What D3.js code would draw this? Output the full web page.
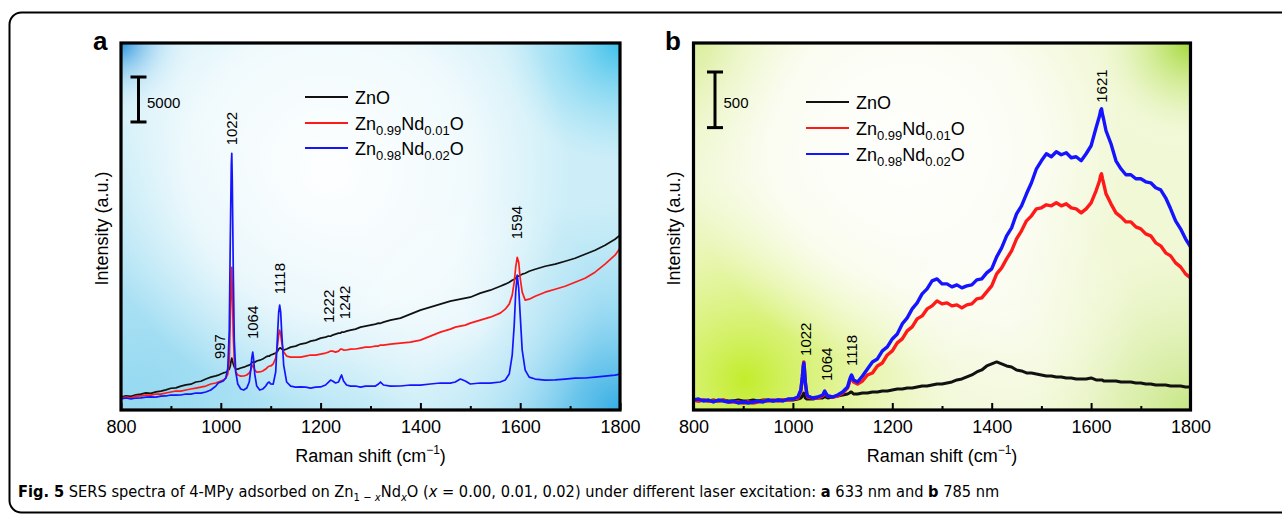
<!DOCTYPE html>
<html><head><meta charset="utf-8">
<script src="https://cdn.jsdelivr.net/npm/d3@7"></script>
<style>
body{margin:0;background:#fff}
svg{display:block}
text{font-family:"Liberation Sans",Arial,Helvetica,sans-serif;fill:#000}
</style>
</head><body>
<svg id="c" width="1282" height="517"></svg>
<script>
// ---------------- data ----------------
const ramanTicks = [800, 1000, 1200, 1400, 1600, 1800];
const ramanMinorTicks = [900, 1100, 1300, 1500, 1700];
const seriesColors = ["#111111", "#ff1a1a", "#1414ff"];
const legendLabels = [
  [{t: "ZnO"}],
  [{t: "Zn"}, {t: "0.99", s: 1}, {t: "Nd"}, {t: "0.01", s: 1}, {t: "O"}],
  [{t: "Zn"}, {t: "0.98", s: 1}, {t: "Nd"}, {t: "0.02", s: 1}, {t: "O"}]
];

// panel a : 633 nm
const shiftA = [800,810,820,830,840,850,860,870,880,890,900,910,920,930,940,950,960,970,980,990,
  995,1000,1005,1010,1014,1017,1019,1021,1022,1023,1025,1027,1030,1034,1040,1046,1052,1057,
  1060,1062,1064,1066,1068,1072,1078,1084,1090,1094,1097,1100,1105,1110,1114,1116,1118,1120,1122,1126,1132,
  1140,1150,1160,1170,1180,1190,1200,1210,1216,1220,1224,1230,1236,1240,1242,1246,1252,
  1260,1270,1280,1290,1300,1310,1316,1320,1326,1340,1360,1380,1400,1420,1440,1460,1470,1480,1490,1500,
  1520,1540,1560,1570,1578,1584,1588,1591,1594,1597,1600,1604,1610,1618,
  1630,1650,1670,1690,1710,1730,1750,1770,1790,1800];
const aZnO = [1440,1580,1530,1680,1760,1900,1850,2010,2100,2240,
  2420,2460,2650,2790,2870,3110,3200,3450,3650,3790,
  3870,4000,4120,4200,
  4350,4540,4880,5560,5770,5530,5110,4770,
  4560,4540,4670,4760,4900,4990,
  5100,5230,5320,5340,5310,
  5450,5540,5670,5880,5990,5980,6110,6210,
  6330,6550,6770,6880,6900,6770,6660,6780,
  6990,7100,7330,7430,7660,7770,7990,8100,
  8220,8200,8330,8440,8550,8540,8660,8650,8770,
  8880,8990,9210,9320,9440,9550,
  9660,9640,9770,
  9990,10210,10660,11100,11430,11770,12100,
  12210,12320,12430,12540,
  12990,13320,13760,13990,14210,14430,14540,14650,14870,14880,14990,15100,15210,15430,
  15650,15980,16210,16540,16870,17320,17760,18320,18980,19430];
const aNd001 = [1330,1440,1330,1550,1560,1670,1660,1780,1770,1890,
  2000,2110,2100,2220,2330,2440,2550,2660,2890,3000,
  3110,3220,3330,3550,
  4000,5550,9990,14990,15870,13320,8330,5550,
  4220,3890,3770,3780,3890,4110,
  4440,4770,5000,4770,4440,
  4220,4230,4330,4550,4770,4880,4890,5110,
  5770,7330,8330,8880,8440,7550,6440,5990,
  5880,5890,5880,5990,6110,6100,6220,6330,
  6440,6550,6540,6440,6550,6770,6780,6660,6670,
  6770,6780,6880,6990,7000,7100,
  7110,7220,7210,
  7330,7440,7550,7770,8210,8660,8990,
  9210,9330,9440,9660,
  9990,10320,10770,11210,11770,12770,14210,15870,16980,16430,14650,13100,12210,12320,
  12650,13100,13430,13760,14210,14650,15320,16210,17210,17980];
const aNd002 = [1220,1330,1220,1330,1340,1440,1450,1440,1550,1560,
  1670,1660,1670,1780,1770,1890,1880,2000,2220,2660,
  3000,3110,3220,3550,
  4660,8880,18870,27200,28530,25530,15540,7770,
  4220,2890,2330,2220,2440,3110,
  4440,5770,6440,5550,4000,
  2660,2220,2330,2660,3000,3110,2890,2880,
  4220,8660,10880,11660,10880,8660,5000,3110,
  2660,2550,2560,2550,2440,2550,2560,2780,
  3110,3330,3220,3000,3110,3660,3890,3220,2780,
  2660,2670,2550,2660,2670,2660,
  2890,3110,2780,
  2660,2670,2780,2770,2890,3000,2990,
  3110,3440,3220,2890,
  3000,2990,3110,3330,4000,6110,9440,13100,14990,13540,10550,6660,4440,3660,
  3440,3330,3340,3440,3550,3560,3660,3770,3880,4000];
const peaksA = [997, 1022, 1064, 1118, 1222, 1242, 1594];
const peakLabelLevelA = [5660, 29420, 7880, 12880, 9660, 10100, 18980];
const scaleBarA = 5000;

// panel b : 785 nm
const shiftB = [800,810,820,830,840,850,860,870,880,890,900,910,920,930,940,950,960,970,980,990,1000,1010,
  1016,1019,1021,1022,1023,1025,1028,1030,1040,1050,1060,1062,1064,1066,1070,1080,1090,1100,1110,
  1114,1116,1118,1120,1122,
  1130,1140,1150,1160,1170,1180,1190,1200,1210,1220,1230,1240,1250,1260,1270,1280,1290,1300,1310,1320,
  1330,1340,1350,1360,1370,1380,1390,1400,1410,1420,1430,1440,1450,1460,1470,1480,1490,1500,1510,1520,
  1530,1540,1550,1560,1570,1580,1590,1600,1610,
  1617,1619,1621,1623,1625,
  1630,1640,1650,1660,1670,1680,1690,1700,1710,1720,1730,1740,1750,1760,1770,1780,1790,1800];
const bZnO = [90,81,90,81,90,81,90,81,81,90,81,81,90,81,90,90,81,90,90,90,90,99,
  108,126,144,153,135,108,99,
  99,99,108,108,
  117,117,117,
  108,117,126,135,144,
  153,162,162,153,144,
  144,153,153,162,162,171,171,180,189,189,198,198,207,216,216,225,234,234,243,252,
  270,279,297,315,342,360,396,414,432,414,396,387,360,351,333,333,324,315,306,306,
  297,297,288,288,279,279,279,288,270,
  270,270,270,270,261,
  261,261,261,252,252,252,243,243,234,234,225,225,225,216,216,216,207,207];
const bNd001 = [90,81,90,81,81,81,90,72,72,72,63,72,63,72,81,81,90,81,90,90,99,108,
  171,297,405,432,378,243,144,
  117,108,108,126,
  144,162,144,
  126,117,126,153,198,
  252,279,297,279,252,
  234,261,315,333,396,423,495,531,603,639,711,747,819,846,909,936,981,954,963,936,
  945,918,945,954,999,1008,1062,1116,1224,1278,1359,1431,1539,1611,1701,1746,1809,1818,1845,1836,
  1863,1836,1854,1818,1809,1773,1809,1863,1971,
  2061,2106,2124,2079,2043,
  1944,1854,1773,1737,1692,1692,1647,1629,1584,1566,1503,1476,1413,1386,1323,1287,1224,1188];
const bNd002 = [90,99,81,90,72,90,81,72,81,63,72,63,72,81,72,90,81,90,81,99,99,117,
  180,297,396,423,378,252,144,
  126,108,117,135,
  153,171,153,
  126,117,135,162,207,
  270,297,315,297,270,
  252,306,369,432,459,531,567,639,684,774,828,909,963,1044,1089,1161,1179,1134,1134,1107,
  1125,1098,1116,1125,1170,1179,1233,1269,1377,1458,1566,1638,1764,1836,1944,2043,2169,2241,2304,2277,
  2322,2295,2313,2268,2277,2241,2304,2376,2538,
  2646,2691,2709,2655,2619,
  2511,2394,2241,2169,2115,2115,2079,2079,2052,2043,1998,1980,1908,1809,1701,1629,1539,1467];
const peaksB = [1022, 1064, 1118, 1621];
const peakLabelLevelB = [486, 261, 396, 2763];
const scaleBarB = 500;

// ---------------- drawing ----------------
const svg = d3.select("#c");
const defs = svg.append("defs");

// outer frame
svg.append("rect").attr("x", 9.5).attr("y", 12.5).attr("width", 1300).attr("height", 500)
  .attr("rx", 12).attr("fill", "none").attr("stroke", "#000").attr("stroke-width", 2);

function radial(id, cx, cy, r, stops) {
  const g = defs.append("radialGradient").attr("id", id).attr("gradientUnits", "userSpaceOnUse")
    .attr("cx", cx).attr("cy", cy).attr("r", r);
  stops.forEach(s => g.append("stop").attr("offset", s[0]).attr("stop-color", s[1]).attr("stop-opacity", s[2]));
  return id;
}

function panel(cfg) {
  const {x0, x1, y0, y1} = cfg;
  const x = d3.scaleLinear().domain([800, 1800]).range([x0, x1]);
  const y = d3.scaleLinear().domain([0, cfg.yMax]).range([y1, y0]);
  const g = svg.append("g");

  // background
  g.append("rect").attr("x", x0).attr("y", y0).attr("width", x1 - x0).attr("height", y1 - y0).attr("fill", cfg.base);
  cfg.glows.forEach((gl, i) => {
    const id = cfg.id + "g" + i;
    radial(id, gl[0], gl[1], gl[2], gl[3]);
    g.append("rect").attr("x", x0).attr("y", y0).attr("width", x1 - x0).attr("height", y1 - y0)
      .attr("fill", `url(#${id})`);
  });

  // clip
  defs.append("clipPath").attr("id", cfg.id + "clip").append("rect")
    .attr("x", x0).attr("y", y0).attr("width", x1 - x0).attr("height", y1 - y0);

  // spectra
  const line = d3.line().x((d, i) => x(cfg.shift[i])).y(d => y(d));
  const lines = g.append("g").attr("clip-path", `url(#${cfg.id}clip)`);
  cfg.series.forEach((s, k) => {
    lines.append("path").datum(s).attr("d", line).attr("fill", "none")
      .attr("stroke", seriesColors[k]).attr("stroke-width", cfg.widths[k])
      .attr("stroke-linejoin", "round");
  });

  // peak labels
  cfg.peaks.forEach((p, i) => {
    const px = x(p) + (cfg.peakNudge[i] || 0);
    g.append("text").attr("transform", `translate(${px},${y(cfg.peakLevels[i])}) rotate(-90)`)
      .attr("dy", "0.36em").attr("font-size", 15).text(p);
  });

  // axes ticks
  const ax = g.append("g").attr("transform", `translate(0,${y1})`)
    .call(d3.axisBottom(x).tickValues(ramanTicks).tickSizeInner(-7).tickSizeOuter(0).tickPadding(10)
      .tickFormat(d3.format("d")));
  ax.select(".domain").remove();
  ax.selectAll(".tick line").attr("stroke", "#000").attr("stroke-width", 2);
  ax.selectAll(".tick text").attr("font-size", 18).attr("font-family", "Liberation Sans, Arial, sans-serif").attr("fill", "#000");
  const mx = g.append("g").attr("transform", `translate(0,${y1})`)
    .call(d3.axisBottom(x).tickValues(ramanMinorTicks).tickSizeInner(-4).tickSizeOuter(0).tickFormat(""));
  mx.select(".domain").remove();
  mx.selectAll(".tick line").attr("stroke", "#000").attr("stroke-width", 2);

  // frame
  g.append("rect").attr("x", x0).attr("y", y0).attr("width", x1 - x0).attr("height", y1 - y0)
    .attr("fill", "none").attr("stroke", "#000").attr("stroke-width", 3.2);

  // titles
  const xt = g.append("text").attr("x", (x0 + x1) / 2).attr("y", y1 + 52).attr("text-anchor", "middle").attr("font-size", 18);
  xt.append("tspan").text("Raman shift (cm");
  xt.append("tspan").attr("font-size", 12).attr("dy", -8).text("\u22121");
  xt.append("tspan").attr("dy", 8).text(")");
  g.append("text").attr("transform", `translate(${cfg.yTitleX},${(y0 + y1) / 2 + 2}) rotate(-90)`)
    .attr("text-anchor", "middle").attr("dy", "0.35em").attr("font-size", 18).text("Intensity (a.u.)");
  g.append("text").attr("x", cfg.letterX).attr("y", 50).attr("font-size", 26).attr("font-weight", "bold").text(cfg.letter);

  // scale bar
  const barLen = y(0) - y(cfg.bar);
  const bx = cfg.barX, bt = cfg.barTop, bb = bt + barLen;
  const sb = g.append("g").attr("stroke", "#000").attr("stroke-width", 3);
  sb.append("line").attr("x1", bx).attr("x2", bx).attr("y1", bt).attr("y2", bb);
  sb.append("line").attr("x1", bx - 8).attr("x2", bx + 8).attr("y1", bt).attr("y2", bt);
  sb.append("line").attr("x1", bx - 8).attr("x2", bx + 8).attr("y1", bb).attr("y2", bb);
  g.append("text").attr("x", bx + 8.5).attr("y", (bt + bb) / 2 + 3).attr("dy", "0.35em").attr("font-size", 15).text(cfg.bar);

  // legend
  cfg.legendY.forEach((ly, k) => {
    g.append("line").attr("x1", cfg.legendX).attr("x2", cfg.legendX + 43).attr("y1", ly).attr("y2", ly)
      .attr("stroke", seriesColors[k]).attr("stroke-width", 2.2);
    const t = g.append("text").attr("x", cfg.legendX + 50).attr("y", ly + 6.5).attr("font-size", 18);
    let low = false;
    legendLabels[k].forEach(p => {
      const ts = t.append("tspan").text(p.t);
      if (p.s && !low) { ts.attr("font-size", 13).attr("dy", 5); low = true; }
      else if (!p.s && low) { ts.attr("dy", -5); low = false; }
    });
  });
}

panel({
  id: "pa", x0: 121, x1: 620, y0: 43, y1: 410, yMax: 40800,
  shift: shiftA, series: [aZnO, aNd001, aNd002], widths: [1.7, 1.7, 1.7],
  peaks: peaksA, peakLevels: peakLabelLevelA, peakNudge: [0, 0, 0, 0, -3, 3.5, -1],
  base: "#cdeef8",
  glows: [
    [140, 400, 280, [[0, "#8ed6f0", 0.9], [1, "#8ed6f0", 0]]],
    [620, 410, 210, [[0, "#35ade4", 1], [0.5, "#78cdee", 0.55], [1, "#9fdcf2", 0]]],
    [620, 43, 120, [[0, "#3fc0eb", 1], [1, "#8fdcf2", 0]]],
    [121, 43, 85, [[0, "#2f95dd", 1], [0.5, "#9fd4f2", 0.5], [1, "#ffffff", 0]]],
    [330, 170, 240, [[0, "#ffffff", 0.97], [0.6, "#ffffff", 0.7], [1, "#ffffff", 0]]],
    [470, 320, 130, [[0, "#ffffff", 0.55], [1, "#ffffff", 0]]]
  ],
  yTitleX: 102, letter: "a", letterX: 93,
  bar: scaleBarA, barX: 138.5, barTop: 77,
  legendX: 305, legendY: [97, 123, 148]
});

panel({
  id: "pb", x0: 693.5, x1: 1190.5, y0: 43, y1: 410, yMax: 3300,
  shift: shiftB, series: [bZnO, bNd001, bNd002], widths: [3, 3.4, 3.4],
  peaks: peaksB, peakLevels: peakLabelLevelB, peakNudge: [1.5, 1.5, 0.5, 0.5],
  base: "#f1f8d6",
  glows: [
    [745, 380, 210, [[0, "#c0ec22", 0.95], [0.5, "#d8f272", 0.55], [1, "#e8f7b0", 0]]],
    [1190, 43, 110, [[0, "#a3d838", 1], [0.5, "#cdea8a", 0.5], [1, "#ffffff", 0]]],
    [1190, 410, 170, [[0, "#c2e47c", 0.9], [1, "#e4f3bc", 0]]],
    [693, 43, 150, [[0, "#d6ec90", 0.8], [1, "#eef7c8", 0]]],
    [905, 150, 220, [[0, "#ffffff", 0.97], [0.6, "#ffffff", 0.7], [1, "#ffffff", 0]]],
    [1010, 320, 130, [[0, "#ffffff", 0.55], [1, "#ffffff", 0]]]
  ],
  yTitleX: 674, letter: "b", letterX: 665,
  bar: scaleBarB, barX: 715, barTop: 72,
  legendX: 806, legendY: [102, 128, 154]
});

// caption
const cap = svg.append("text").attr("x", 18).attr("y", 497)
  .attr("font-size", 16).style("font-family", "'Liberation Sans Narrow','DejaVu Sans Condensed','Liberation Sans',sans-serif");
const capParts = [
  {t: "Fig. 5", b: 1}, {t: " SERS spectra of 4-MPy adsorbed on Zn"},
  {t: "1 \u2212 ", sub: 1}, {t: "x", sub: 1, i: 1}, {t: "Nd", up: 1}, {t: "x", sub: 1, i: 1},
  {t: "O (", up: 1}, {t: "x", i: 1}, {t: " = 0.00, 0.01, 0.02) under different laser excitation: "},
  {t: "a", b: 1}, {t: " 633 nm and "}, {t: "b", b: 1}, {t: " 785 nm"}
];
let capLow = false;
capParts.forEach(p => {
  const ts = cap.append("tspan").text(p.t);
  if (p.b) ts.attr("font-weight", "bold");
  if (p.i) ts.attr("font-style", "italic");
  if (p.sub) { ts.attr("font-size", 11); if (!capLow) { ts.attr("dy", 4); capLow = true; } }
  else if (capLow) { ts.attr("dy", -4); capLow = false; }
});
const capW = cap.node().getComputedTextLength();
const sx = 982 / capW;
cap.attr("transform", `translate(${18 - 18 * sx},0) scale(${sx},1)`);
</script>
</body></html>
